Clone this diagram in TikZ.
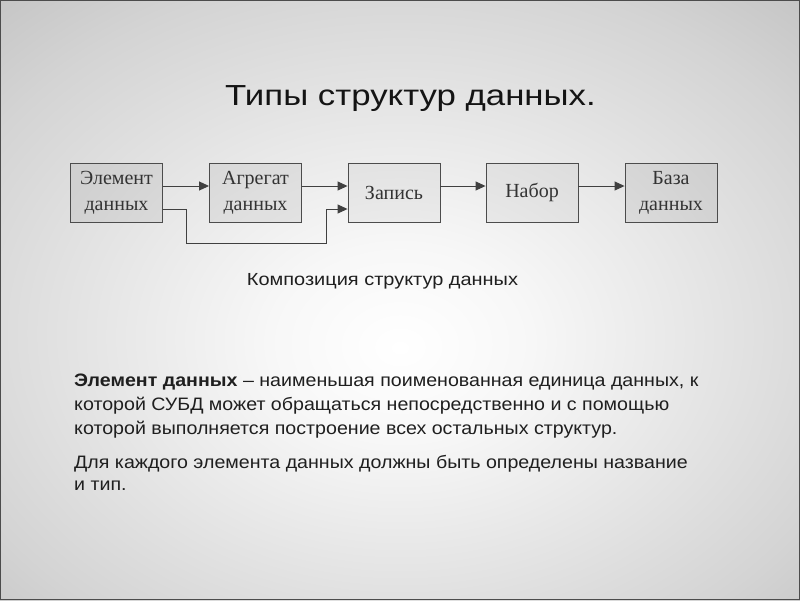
\documentclass[tikz,border=0pt]{standalone}
\usepackage{fontspec}
\setmainfont{Liberation Sans}
\newfontfamily\boxfont{Liberation Serif}
\newfontfamily\titlefont[FakeStretch=1.2]{Liberation Sans}
\newfontfamily\capfont[FakeStretch=1.14]{Liberation Sans}
\newfontfamily\bodyfont[FakeStretch=1.09]{Liberation Sans}
\usetikzlibrary{arrows.meta}
\pgfdeclareradialshading{bgshade}{\pgfpoint{0bp}{-4bp}}{color(0bp)=(white); color(8bp)=(white!97!black); color(30bp)=(white!83!black); color(50bp)=(white!67!black); color(75bp)=(white!58!black)}
\tikzset{
  blk/.style={draw=black!70, line width=0.9pt, fill=black, fill opacity=0.06, text opacity=1,
    minimum width=92pt, minimum height=59pt, inner sep=0pt, align=center,
    font=\boxfont\fontsize{20}{26}\selectfont, text=black!80},
  conn/.style={draw=black!75, line width=0.9pt, -{Triangle[length=10pt,width=9pt]}},
  bodyline/.style={anchor=base west, inner sep=0pt, font=\bodyfont\fontsize{18}{22}\selectfont, text=black!88}
}
\begin{document}
\begin{tikzpicture}[x=1pt,y=-1pt]
\useasboundingbox (0,0) rectangle (800,600);
\shade[shading=bgshade] (0,0) rectangle (800,600);
\draw[black!70, line width=1.5pt] (0.5,0.5) rectangle (799.5,599.5);
\node[anchor=base, inner sep=0pt, font=\titlefont\fontsize{29}{32}\selectfont, text=black!92] (title) at (410.5,105) {Типы структур данных.};
\node[blk] (b1) at (116.5,192.5) {Элемент\\данных};
\node[blk] (b2) at (255.5,192.5) {Агрегат\\данных};
\node[blk, fill opacity=0.04] (b3) at (394,192.5) {Запись};
\node[blk, fill opacity=0.04] (b4) at (532,192.5) {Набор};
\node[blk] (b5) at (671,192.5) {База\\данных};
\coordinate (ya) at (0,186);
\coordinate (yb) at (0,209);
\coordinate (k1) at (186,209);
\coordinate (k2) at (186,243);
\coordinate (k3) at (326,243);
\coordinate (k4) at (326,209);
\draw[conn] (b1.east |- ya) -- (b2.west |- ya);
\draw[conn] (b2.east |- ya) -- (b3.west |- ya);
\draw[conn] (b3.east |- ya) -- (b4.west |- ya);
\draw[conn] (b4.east |- ya) -- (b5.west |- ya);
\draw[conn] (b1.east |- yb) -- (k1) -- (k2) -- (k3) -- (k4) -- (b3.west |- yb);
\node[anchor=base, inner sep=0pt, font=\capfont\fontsize{17.5}{20}\selectfont, text=black!88] (cap) at (382.5,285) {Композиция структур данных};
\node[bodyline] (l1) at (74,386) {\textbf{Элемент данных} – наименьшая поименованная единица данных, к};
\node[bodyline] (l2) at (74,410) {которой СУБД может обращаться непосредственно и с помощью};
\node[bodyline] (l3) at (74,434) {которой выполняется построение всех остальных структур.};
\node[bodyline] (l4) at (74,468) {Для каждого элемента данных должны быть определены название};
\node[bodyline] (l5) at (74,490) {и тип.};
\end{tikzpicture}
\end{document}
